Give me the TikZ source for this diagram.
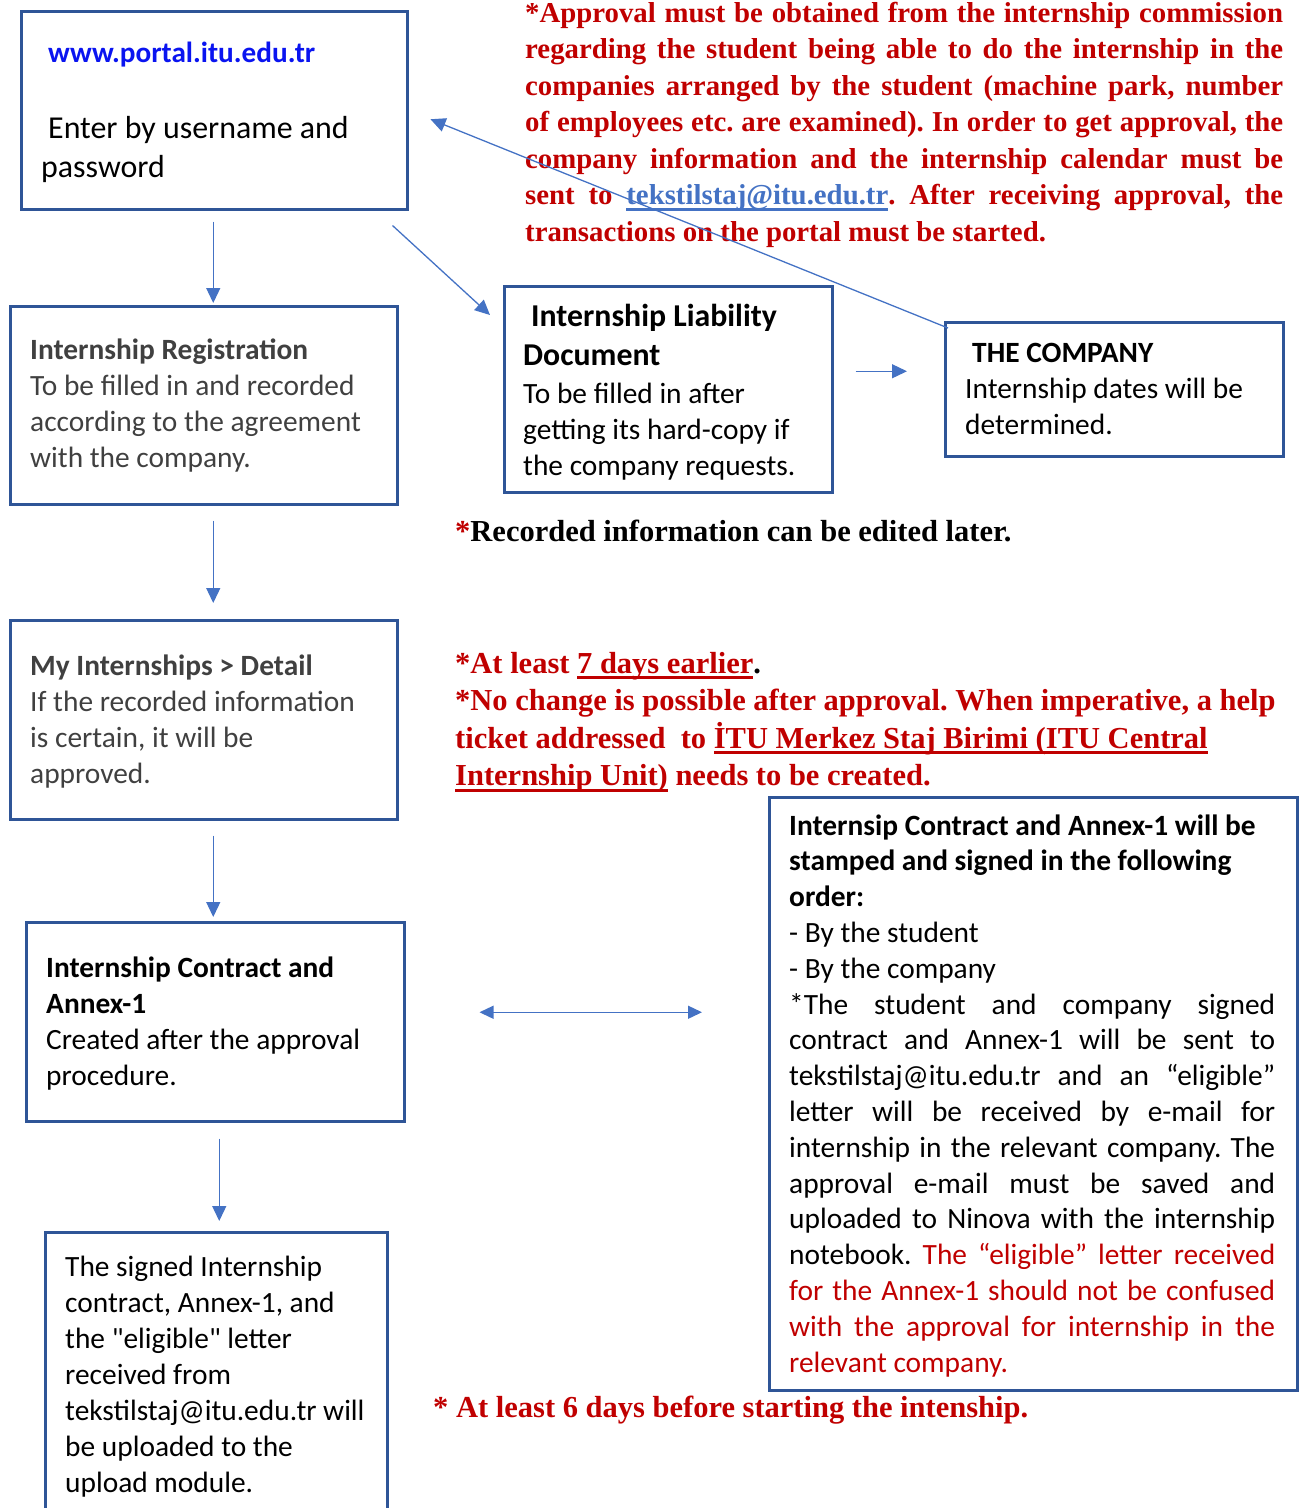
\documentclass[tikz,border=0pt]{standalone}
\usepackage{fontspec}
\setmainfont{Carlito}
\newfontfamily\tnr{Liberation Serif}
\newfontfamily\plainq[Ligatures=TeXOff]{Carlito}
\usetikzlibrary{arrows.meta,calc}
\definecolor{boxblue}{RGB}{47,85,151}
\definecolor{conblue}{RGB}{68,114,196}
\definecolor{darkred}{RGB}{192,0,0}
\definecolor{txtgray}{RGB}{64,64,64}
\definecolor{linkblue}{RGB}{10,20,240}
\newcommand\jl[2][758pt]{\makebox[#1][s]{\spaceskip=0pt\xspaceskip=0pt #2}}
\newcommand\ulin[2]{\leavevmode\setbox0=\hbox{#2}\rlap{\color{#1}\rule[-6pt]{\wd0}{2.6pt}}\box0\relax}
\tikzset{
  box/.style={draw=boxblue, line width=2.5pt, inner sep=0pt, anchor=north west},
  txt/.style={inner sep=0pt, anchor=base west, execute at begin node={\spaceskip=0pt\xspaceskip=0pt}},
  body/.style={txt, font=\fontsize{29.4}{36}\selectfont},
  note/.style={txt, font=\tnr\bfseries\fontsize{30.5}{37.5}\selectfont, text=darkred},
  conn/.style={draw=conblue, line width=1.3pt, -{Triangle[length=15pt,width=14pt]}},
  dconn/.style={draw=conblue, line width=1.3pt, {Triangle[length=14pt,width=13pt]}-{Triangle[length=14pt,width=13pt]}}
}
\begin{document}
\frenchspacing
\begin{tikzpicture}[x=1pt,y=-1pt]
\useasboundingbox (0,0) rectangle (1304,1508);
\clip (0,0) rectangle (1304,1508);
% boxes
\node[box, minimum width=386pt, minimum height=198pt] (b1) at (20,10) {};
\node[box, minimum width=387pt, minimum height=198pt] (b2) at (9,305) {};
\node[box, minimum width=328pt, minimum height=206pt] (b3) at (503,285) {};
\node[box, minimum width=338pt, minimum height=134pt] (b4) at (944,321) {};
\node[box, minimum width=387pt, minimum height=199pt] (b5) at (9,619) {};
\node[box, minimum width=378pt, minimum height=199pt] (b6) at (25,921) {};
\node[box, minimum width=342pt, minimum height=300pt] (b7) at (44,1231) {};
\node[box, minimum width=528pt, minimum height=593pt] (b8) at (768,796) {};
% box texts
\node[txt, font=\bfseries\fontsize{29.2}{36}\selectfont, text=linkblue] (t1a) at (48,62) {www.portal.itu.edu.tr};
\node[txt, text width=360pt, font=\fontsize{31.9}{39}\selectfont] (t1b) at (41,138) {\hspace*{7pt}Enter by username and\\password};
\node[body, text width=370pt, text=txtgray] (t2) at (30,359) {\textbf{Internship Registration}\\To be filled in and recorded\\according to the agreement\\with the company.};
\node[txt, text width=310pt, font=\bfseries\fontsize{31.8}{39}\selectfont] (t3a) at (523,326) {\hspace*{8pt}Internship Liability\\Document};
\node[body, text width=310pt] (t3b) at (523,403) {To be filled in after\\getting its hard-copy if\\the company requests.};
\node[body, text width=320pt] (t4) at (965,362) {\hspace*{7pt}\textbf{THE COMPANY}\\Internship dates will be\\determined.};
\node[body, text width=370pt, text=txtgray] (t5) at (30,675) {\textbf{My Internships > Detail}\\If the recorded information\\is certain, it will be\\approved.};
\node[body, text width=355pt] (t6) at (46,977) {\textbf{Internship Contract and}\\\textbf{Annex-1}\\Created after the approval\\procedure.};
\node[body, text width=330pt] (t7) at (65,1276) {The signed Internship\\contract, Annex-1, and\\the {\plainq\char34}eligible{\plainq\char34} letter\\received from\\tekstilstaj@itu.edu.tr will\\be uploaded to the\\upload module.};
\node[txt, text width=486pt, font=\fontsize{29.4}{35.8}\selectfont] (t8) at (789,835) {%
\textbf{Internsip Contract and Annex-1 will be}\\
\textbf{stamped and signed in the following}\\
\textbf{order:}\\
- By the student\\
- By the company\\
\jl[486pt]{*The student and company signed}\\
\jl[486pt]{contract and Annex-1 will be sent to}\\
\jl[486pt]{tekstilstaj@itu.edu.tr and an “eligible”}\\
\jl[486pt]{letter will be received by e-mail for}\\
\jl[486pt]{internship in the relevant company. The}\\
\jl[486pt]{approval e-mail must be saved and}\\
\jl[486pt]{uploaded to Ninova with the internship}\\
\jl[486pt]{notebook. \textcolor{darkred}{The “eligible” letter received}}\\
\textcolor{darkred}{\jl[486pt]{for the Annex-1 should not be confused}}\\
\textcolor{darkred}{\jl[486pt]{with the approval for internship in the}}\\
\textcolor{darkred}{relevant company.}};
% notes
\node[txt, text width=770pt, font=\tnr\bfseries\fontsize{28.8}{36.5}\selectfont, text=darkred] (n1) at (525,22) {%
\jl{*Approval must be obtained from the internship commission}\\
\jl{regarding the student being able to do the internship in the}\\
\jl{companies arranged by the student (machine park, number}\\
\jl{of employees etc. are examined). In order to get approval, the}\\
\jl{company information and the internship calendar must be}\\
\jl{sent to \ulin{conblue}{\textcolor{conblue}{tekstilstaj@itu.edu.tr}}. After receiving approval, the}\\
transactions on the portal must be started.};
\node[note, text=black] (n2) at (455,541) {\textcolor{darkred}{*}Recorded information can be edited later.};
\node[note, text width=860pt] (n3) at (455,673) {%
*At least \ulin{darkred}{7 days earlier}\textcolor{black}{.}\\{}%
*No change is possible after approval. When imperative, a help\\
ticket addressed\ \ to \ulin{darkred}{İTU Merkez Staj Birimi (ITU Central}\\
\ulin{darkred}{Internship Unit)} needs to be created.};
\node[note] (n4) at (433,1417) {* At least 6 days before starting the intenship.};
% connectors
\draw[conn, shorten <=11pt, shorten >=2pt] ([xshift=-1pt]b1.south) -- ([xshift=-1pt]b1.south |- b2.north);
\draw[conn] ($(b1.south east)+(-16,15)$) -- ($(b3.north west)+(-13,30)$);
\draw[conn] ($(b4.north west)+(4,7)$) -- ($(b1.east)+(22,9)$);
\draw[conn] ($(b3.east)+(22,-18)$) -- ($(b4.west)+(-37,-18)$);
\draw[conn] ($(b2.south)+(9.5,15)$) -- ($(b2.south |- b5.north)+(9.5,-16)$);
\draw[conn] ($(b5.south)+(9.5,15)$) -- ($(b5.south |- b6.north)+(9.5,-4)$);
\draw[conn] ($(b6.south)+(4,16)$) -- ($(b6.south |- b7.north)+(4,-10)$);
\draw[dconn] ($(b6.east)+(74,-9.5)$) -- ($(b8.west |- b6.east)+(-66,-9.5)$);
\end{tikzpicture}
\end{document}
